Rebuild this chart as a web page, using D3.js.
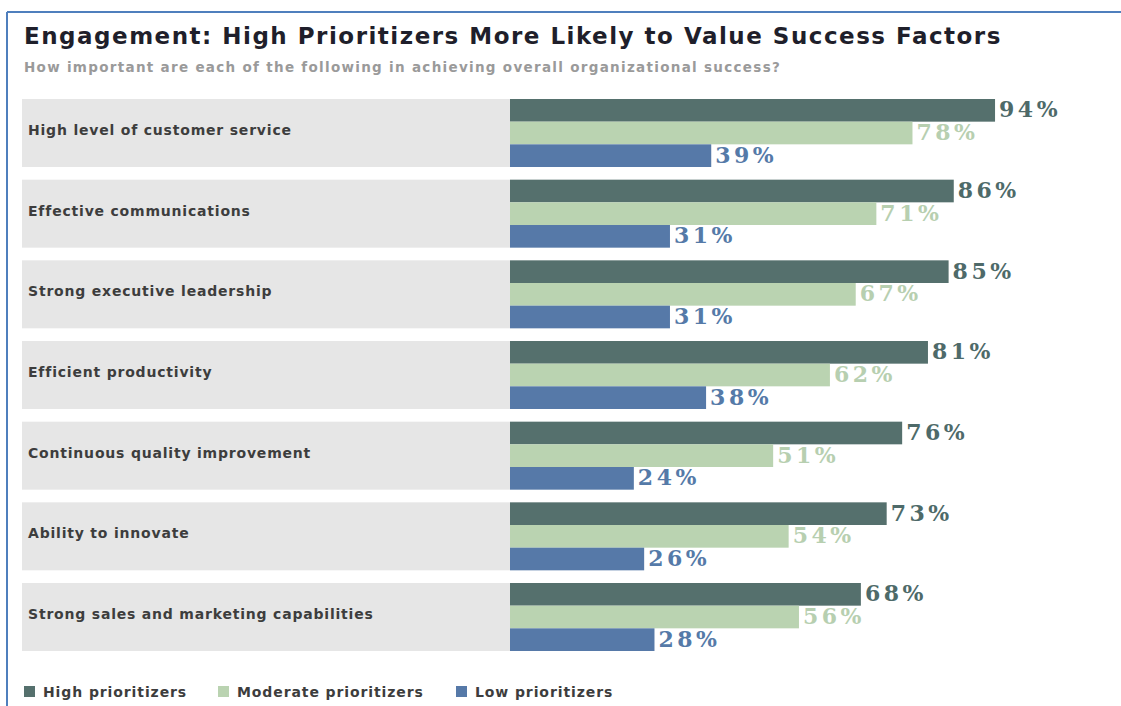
<!DOCTYPE html>
<html>
<head>
<meta charset="utf-8">
<script src="https://cdn.jsdelivr.net/npm/d3@7"></script>
<style>
  body { margin: 0; background: #fff; }
  svg { display: block; }
</style>
</head>
<body>
<div id="chart"></div>
<script>
// data
var categories = [
  "High level of customer service",
  "Effective communications",
  "Strong executive leadership",
  "Efficient productivity",
  "Continuous quality improvement",
  "Ability to innovate",
  "Strong sales and marketing capabilities"
];
var highValues = [94, 86, 85, 81, 76, 73, 68];
var moderateValues = [78, 71, 67, 62, 51, 54, 56];
var lowValues = [39, 31, 31, 38, 24, 26, 28];
var seriesNames = ["High prioritizers", "Moderate prioritizers", "Low prioritizers"];

var colors = ["#55706d", "#bad3b1", "#5679a8"];
var labelColors = ["#4e6a69", "#b7cfb0", "#557aa8"];

var width = 1121, height = 706;
var sans = "'DejaVu Sans', sans-serif";

var svg = d3.select("#chart")
  .append("svg")
  .attr("width", width)
  .attr("height", height);

// frame lines (top + left)
svg.append("line")
  .attr("x1", 7).attr("x2", width).attr("y1", 12).attr("y2", 12)
  .attr("stroke", "#4f7fbd").attr("stroke-width", 2);
svg.append("line")
  .attr("x1", 7).attr("x2", 7).attr("y1", 12).attr("y2", height)
  .attr("stroke", "#4f7fbd").attr("stroke-width", 2);

// Title
svg.append("text")
  .attr("x", 24).attr("y", 44)
  .style("font-family", sans)
  .style("font-weight", "bold")
  .style("font-size", "23px")
  .style("letter-spacing", "1.5px")
  .attr("fill", "#1f1f2b")
  .text("Engagement: High Prioritizers More Likely to Value Success Factors");

svg.append("text")
  .attr("x", 24).attr("y", 72)
  .style("font-family", sans)
  .style("font-weight", "bold")
  .style("font-size", "13.5px")
  .style("letter-spacing", "1.3px")
  .attr("fill", "#9a9a9a")
  .text("How important are each of the following in achieving overall organizational success?");

// scales
var bandLeft = 22, barStart = 510;

var y = d3.scaleBand()
  .domain(categories)
  .range([99, 651])
  .paddingInner(0.157)
  .paddingOuter(0);

var ySub = d3.scaleBand()
  .domain(seriesNames)
  .range([0, y.bandwidth()])
  .padding(0);

var x = d3.scaleLinear()
  .domain([0, 100])
  .range([barStart, barStart + 516]);

var rows = categories.map(function(c, i) {
  return {cat: c, values: [highValues[i], moderateValues[i], lowValues[i]]};
});

// grey label bands
svg.append("g")
  .selectAll("rect")
  .data(rows)
  .enter().append("rect")
    .attr("x", bandLeft)
    .attr("y", function(d) { return y(d.cat); })
    .attr("width", barStart - bandLeft)
    .attr("height", y.bandwidth())
    .attr("fill", "#e6e6e6");

svg.append("g")
  .selectAll("text")
  .data(rows)
  .enter().append("text")
    .attr("x", 28)
    .attr("y", function(d) { return y(d.cat) + y.bandwidth() / 2 + 2; })
    .style("font-family", sans)
    .style("font-weight", "bold")
    .style("font-size", "14px")
    .style("letter-spacing", "0.8px")
    .attr("fill", "#3d3d3d")
    .text(function(d) { return d.cat; });

// bars + value labels
var groups = svg.append("g")
  .selectAll("g")
  .data(rows)
  .enter().append("g")
    .attr("transform", function(d) { return "translate(0," + y(d.cat) + ")"; });

groups.selectAll("rect")
  .data(function(d) { return d.values.map(function(v, j) { return {v: v, s: seriesNames[j], j: j}; }); })
  .enter().append("rect")
    .attr("x", x(0))
    .attr("y", function(d) { return ySub(d.s); })
    .attr("width", function(d) { return x(d.v) - x(0); })
    .attr("height", ySub.bandwidth())
    .attr("fill", function(d) { return colors[d.j]; });

groups.selectAll("text")
  .data(function(d) { return d.values.map(function(v, j) { return {v: v, s: seriesNames[j], j: j}; }); })
  .enter().append("text")
    .attr("x", function(d) { return x(d.v) + 4; })
    .attr("y", function(d) { return ySub(d.s) + ySub.bandwidth() / 2 + 7; })
    .style("font-family", "'DejaVu Serif', serif")
    .style("font-weight", "bold")
    .style("font-size", "22px")
    .style("letter-spacing", "3.5px")
    .attr("fill", function(d) { return labelColors[d.j]; })
    .text(function(d) { return d.v + "%"; });

// legend
var legendX = [24, 218, 456];
var legend = svg.append("g")
  .selectAll("g")
  .data(seriesNames)
  .enter().append("g")
    .attr("transform", function(d, i) { return "translate(" + legendX[i] + ",686)"; });

legend.append("rect")
  .attr("width", 11).attr("height", 11)
  .attr("fill", function(d, i) { return colors[i]; });

legend.append("text")
  .attr("x", 19).attr("y", 11)
  .style("font-family", sans)
  .style("font-size", "14px")
  .style("font-weight", "bold")
  .style("letter-spacing", "0.9px")
  .attr("fill", "#3d3d3d")
  .text(function(d) { return d; });
</script>
</body>
</html>
